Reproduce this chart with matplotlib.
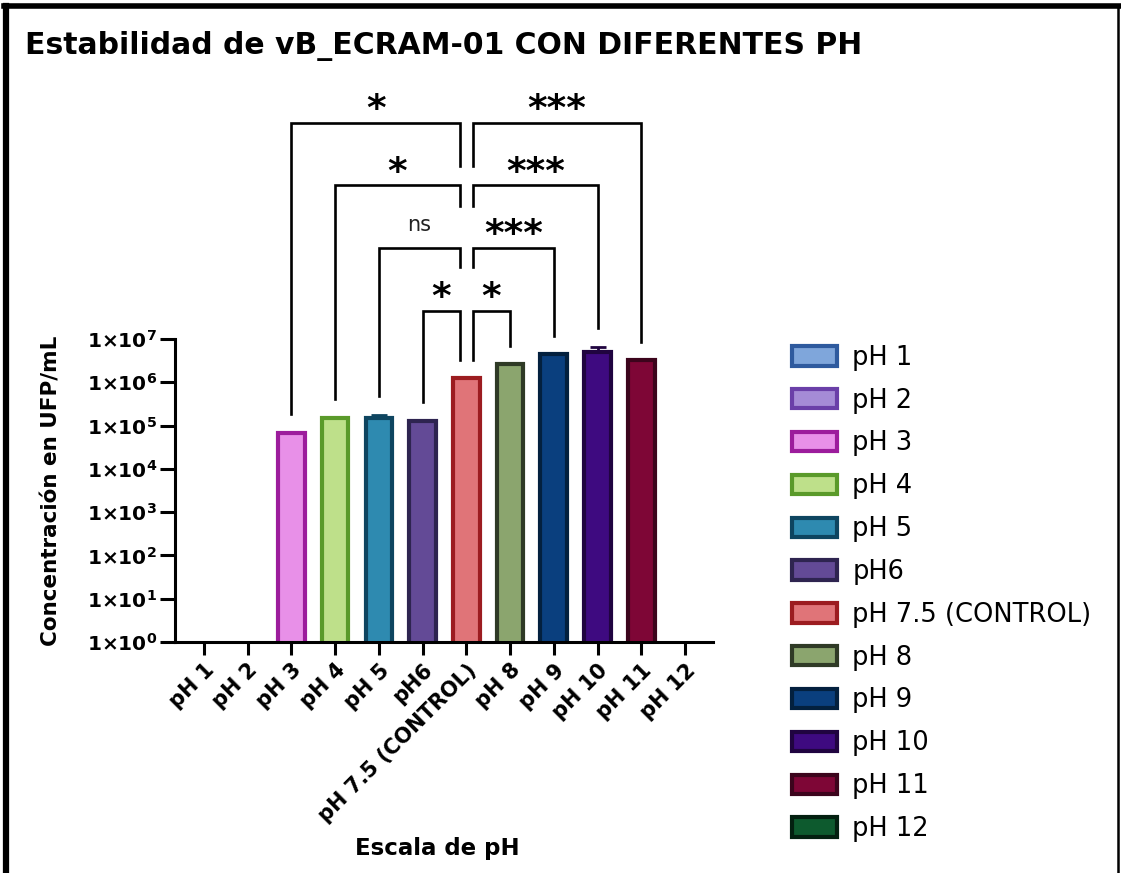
import numpy as np
import matplotlib
matplotlib.use('Agg')
import matplotlib.pyplot as plt
from matplotlib.lines import Line2D
from matplotlib.ticker import FixedLocator, NullLocator

# data
groups = ['pH 1', 'pH 2', 'pH 3', 'pH 4', 'pH 5', 'pH6', 'pH 7.5 (CONTROL)',
          'pH 8', 'pH 9', 'pH 10', 'pH 11', 'pH 12']
means = [np.nan, np.nan, 6.9e4, 1.48e5, 1.5e5, 1.25e5, 1.23e6,
         2.6e6, 4.4e6, 5.1e6, 3.2e6, np.nan]
errors = [0, 0, 0, 4e3, 2.5e4, 4e3, 0, 0, 0, 1.5e6, 0, 0]
control = 'pH 7.5 (CONTROL)'
comparisons = [('pH 3', '*'), ('pH 4', '*'), ('pH 5', 'ns'), ('pH6', '*'),
               ('pH 8', '*'), ('pH 9', '***'), ('pH 10', '***'), ('pH 11', '***')]

fills = ['#7fa6db', '#a58bd6', '#e890e8', '#bee08a', '#2e8ab0', '#634a96',
         '#e07478', '#8ba56e', '#0a3f7e', '#3e0a80', '#7e0636', '#0d5a2e']
edges = ['#2e5a9e', '#6a3fa8', '#9c1c9c', '#5a9a2a', '#0e4560', '#2e2450',
         '#9c1c20', '#2f3a26', '#03203e', '#200440', '#3c041c', '#032010']

plt.rcParams['font.family'] = ['DejaVu Sans']
plt.rcParams['mathtext.fontset'] = 'custom'
plt.rcParams['mathtext.bf'] = 'DejaVu Sans:bold'
plt.rcParams['mathtext.rm'] = 'DejaVu Sans:bold'

fig = plt.figure(figsize=(11.21, 8.73), dpi=100)
ax = fig.add_axes([0.1561, 0.2646, 0.48, 0.3471])

x = np.arange(len(groups))
bars = []
for i in range(len(groups)):
    b = ax.bar(x[i], means[i], width=0.61, color=fills[i], edgecolor=edges[i],
               linewidth=3, label=groups[i], zorder=2)
    bars.append(b)
    if errors[i] > 0:
        ax.errorbar(x[i], means[i], yerr=[[0], [errors[i]]], fmt='none',
                    ecolor=edges[i], elinewidth=2, capsize=6, capthick=2, zorder=1)

ax.set_yscale('log')
ax.set_ylim(1, 1e7)
ax.set_xlim(-0.66, 11.64)
ax.yaxis.set_major_locator(FixedLocator([10.0 ** k for k in range(8)]))
ax.yaxis.set_minor_locator(NullLocator())
ax.set_yticklabels([r'$\mathbf{1{\times}10^{%d}}$' % k for k in range(8)], fontsize=14.5)
ax.set_xticks(x)
ax.set_xticklabels(groups, rotation=45, ha='right', rotation_mode='anchor',
                   fontsize=15, fontweight='bold')
ax.tick_params(axis='y', length=11, width=2.2, pad=2)
ax.tick_params(axis='x', length=9, width=2.2, pad=4)
for s in ['top', 'right']:
    ax.spines[s].set_visible(False)
for s in ['left', 'bottom']:
    ax.spines[s].set_linewidth(2.2)

ax.set_ylabel('Concentración en UFP/mL', fontsize=15.5, fontweight='bold')
ax.yaxis.set_label_coords(-0.21, 0.5)
ax.set_xlabel('Escala de pH', fontsize=16.5, fontweight='bold')
ax.xaxis.set_label_coords(0.487, -0.645)

# significance brackets against the control
ci = groups.index(control)
top = lambda i: (means[i] + errors[i]) * 2.7
leg_drop = {1: None, 2: 0.43, 3: 0.48, 4: 1.0}
for g, txt in comparisons:
    gi = groups.index(g)
    rank = abs(gi - ci)
    level = 10 ** (6.2 + 1.45 * rank)
    side = -1 if gi < ci else 1
    cx = ci + side * 0.15
    cy = top(ci) if leg_drop[rank] is None else level / 10 ** leg_drop[rank]
    ax.plot([gi, gi, cx, cx], [top(gi), level, level, cy], color='black',
            lw=1.9, clip_on=False, solid_joinstyle='miter', zorder=3)
    mid = (gi + cx) / 2
    if txt == 'ns':
        ax.annotate(txt, (mid, level), xytext=(0, 12), textcoords='offset points',
                    ha='center', va='baseline', fontsize=15, color='#222222',
                    annotation_clip=False)
    else:
        ax.annotate(txt, (mid, level), xytext=(0, 2), textcoords='offset points',
                    ha='center', va='baseline', fontsize=27, fontweight='bold',
                    annotation_clip=False)

fig.text(0.022, 0.938, 'Estabilidad de vB_ECRAM-01 CON DIFERENTES PH',
         fontsize=21.5, fontweight='bold', ha='left', va='baseline')

fig.legend(handles=[b.patches[0] for b in bars], labels=groups,
           loc='upper left', bbox_to_anchor=(0.7065, 0.605), frameon=False,
           fontsize=18.5, borderpad=0, borderaxespad=0, handlelength=1.75,
           handleheight=0.78, handletextpad=0.6, labelspacing=0.655)

# picture frame
fig.add_artist(Line2D([0.0055, 0.0055], [0, 0.9935], color='black', lw=4.5,
                      transform=fig.transFigure))
fig.add_artist(Line2D([0.0035, 0.999], [0.9935, 0.9935], color='black', lw=4,
                      transform=fig.transFigure))
fig.add_artist(Line2D([0.9975, 0.9975], [0, 0.9935], color='black', lw=1.8,
                      transform=fig.transFigure))

fig.savefig('out.png', dpi=100)
